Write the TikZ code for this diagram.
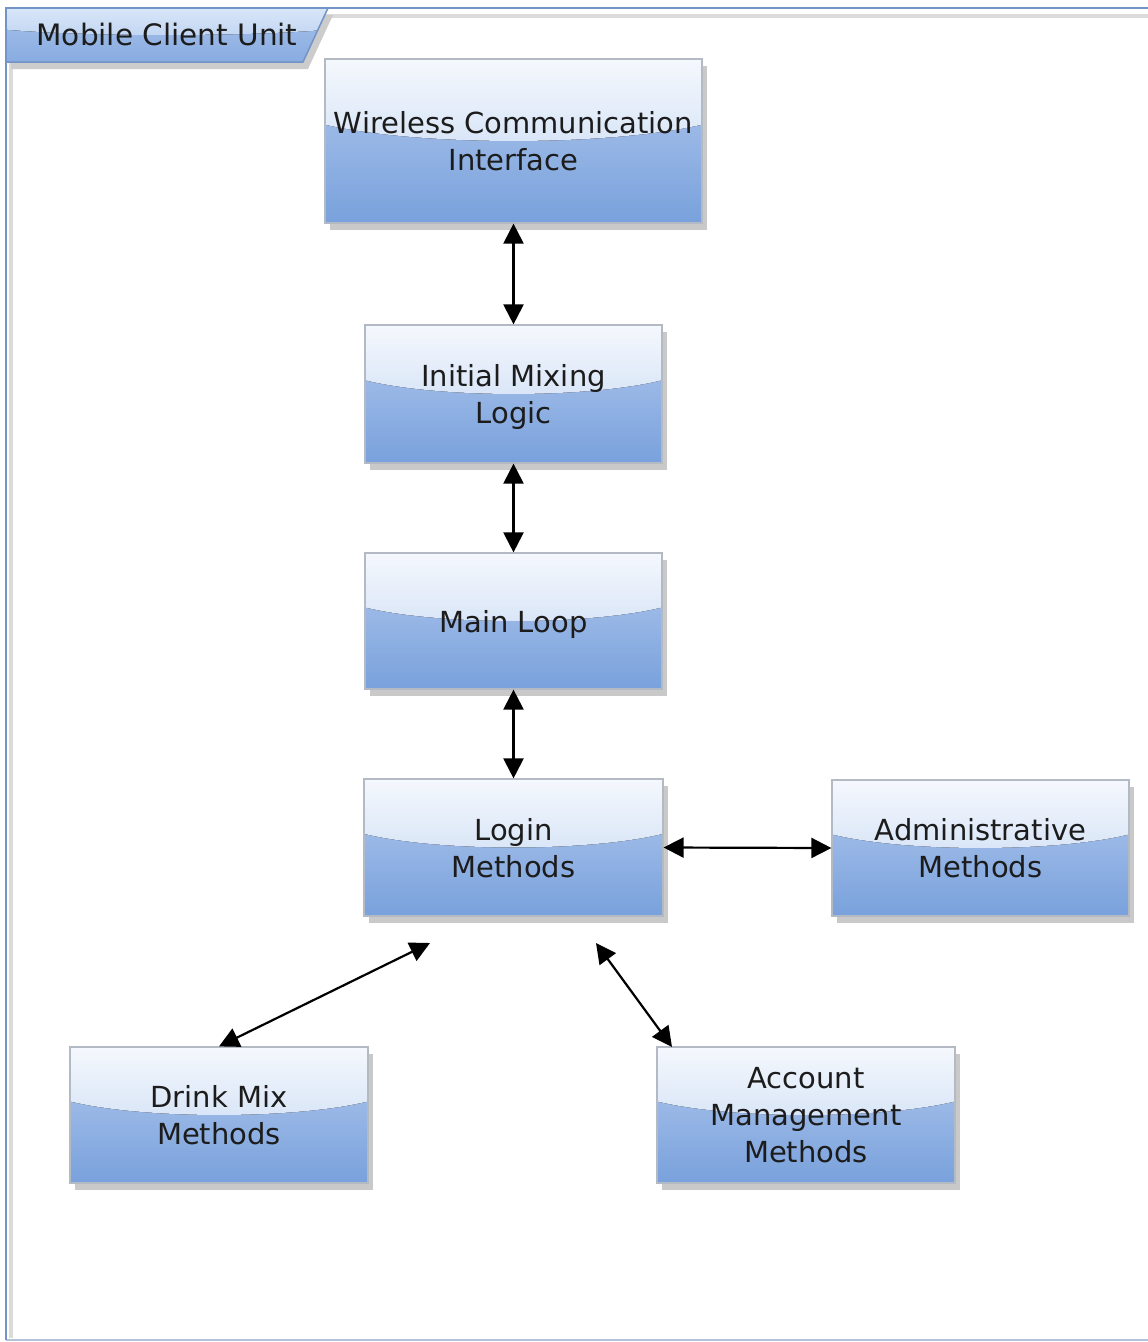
\documentclass[tikz,border=0pt]{standalone}
\usepackage{fontspec}
\setmainfont{DejaVu Sans}
\usetikzlibrary{arrows.meta,shadows,calc}

\definecolor{glossTop}{HTML}{F5F8FD}
\definecolor{glossMid}{HTML}{D8E5F7}
\definecolor{bodyTop}{HTML}{B2C9EE}
\definecolor{bodyBot}{HTML}{79A1DC}
\definecolor{tabTop}{HTML}{D8E6F8}
\definecolor{tabMid}{HTML}{C2D6F2}
\definecolor{tabBody}{HTML}{A8C2EB}
\definecolor{tabBot}{HTML}{88ACE1}
\definecolor{edgeGray}{HTML}{B4BAC4}
\definecolor{edgeBlue}{HTML}{8FA8CF}
\definecolor{frameBlue}{HTML}{7394C8}
\definecolor{frameLight}{HTML}{B3C2D8}
\definecolor{inkDark}{HTML}{1C1C1C}

\tikzset{
  % two-tone glossy fill: light upper band with a curved lower edge over a blue body
  glossy/.style n args={4}{path picture={
    \path (path picture bounding box.north west) coordinate (gNW)
          (path picture bounding box.south east) coordinate (gSE);
    \fill[top color=#3, bottom color=#4] (gNW) rectangle (gSE);
    \path ($(gNW)!0.4!(gNW|-gSE)$) coordinate (gL)
          ($(gNW-|gSE)!0.4!(gSE)$) coordinate (gR)
          ($(gNW)!0.533!(gNW|-gSE)$) coordinate (gLd)
          ($(gNW-|gSE)!0.533!(gSE)$) coordinate (gRd);
    \fill[top color=#1, bottom color=#2]
      (gNW) -- (gNW-|gSE) -- (gR)
      .. controls ($(gLd)!0.75!(gRd)$) and ($(gLd)!0.25!(gRd)$) .. (gL) -- cycle;
    \draw[edgeBlue, line width=2pt] (gNW|-gSE) -- (gSE);
  }},
  blk/.style={rectangle, draw=edgeGray, line width=1.2pt, inner sep=0pt,
    align=center, font=\fontsize{29}{37}\selectfont, text=inkDark,
    text depth=0pt,
    general shadow={fill=black!21, shadow xshift=5pt, shadow yshift=-7pt},
    glossy={glossTop}{glossMid}{bodyTop}{bodyBot}},
  link/.style={draw=black, line width=2.2pt,
    {Triangle[length=20pt,width=20pt]}-{Triangle[length=20pt,width=20pt]}}
}

\begin{document}
\begin{tikzpicture}[x=1pt, y=-1pt]
\useasboundingbox (0,0) rectangle (1148,1342);
\fill[white] (0,0) rectangle (1148,1342);

% package frame
\draw[black!14, line width=4pt] (11,60) -- (11,1338);
\draw[black!14, line width=3.5pt] (320,16) -- (1160,16);
\draw[frameLight, line width=2pt] (6,1340) -- (1160,1340);
\draw[frameBlue, line width=2pt] (6,1340) -- (6,8) -- (1160,8);

% name tab
\fill[black!20] (11,15) -- (333,15) -- (308,69) -- (11,69) -- cycle;
\path[draw=frameBlue, line width=1.5pt, glossy={tabTop}{tabMid}{tabBody}{tabBot}]
  (6,8) -- (328,8) -- (303,62) -- (6,62) -- cycle;
\node[anchor=base, font=\fontsize{29.5}{36}\selectfont, text=inkDark, inner sep=0pt]
  (tab) at (167,45) {Mobile Client Unit};

% components
\node[blk, minimum width=377pt, minimum height=164pt] (wic)   at (513.5,141)  {Wireless Communication\\Interface};
\node[blk, minimum width=297pt, minimum height=138pt] (init)  at (513.5,394)  {Initial Mixing\\Logic};
\node[blk, minimum width=297pt, minimum height=136pt] (mainl) at (513.5,621)  {Main Loop};
\node[blk, minimum width=299pt, minimum height=137pt] (login) at (513.5,847.5){Login\\Methods};
\node[blk, minimum width=297pt, minimum height=136pt] (admin) at (980.5,848)  {Administrative\\Methods};
\node[blk, minimum width=298pt, minimum height=136pt] (drink) at (219,1115)   {Drink Mix\\Methods};
\node[blk, minimum width=298pt, minimum height=136pt] (acct)  at (806,1115)   {Account\\Management\\Methods};

% free ends of the lower connectors
\coordinate (dlEnd) at (430,943);
\coordinate (alEnd) at (596,943);
\coordinate (acTop) at (672,1047);

% connectors
\draw[link] (wic.south) -- (init.north);
\draw[link] (init.south) -- (mainl.north);
\draw[link] (mainl.south) -- (login.north);
\draw[link] (login.east) -- (admin.west);
\draw[link] (dlEnd) -- (drink.north);
\draw[link] (alEnd) -- (acTop);
\end{tikzpicture}
\end{document}
